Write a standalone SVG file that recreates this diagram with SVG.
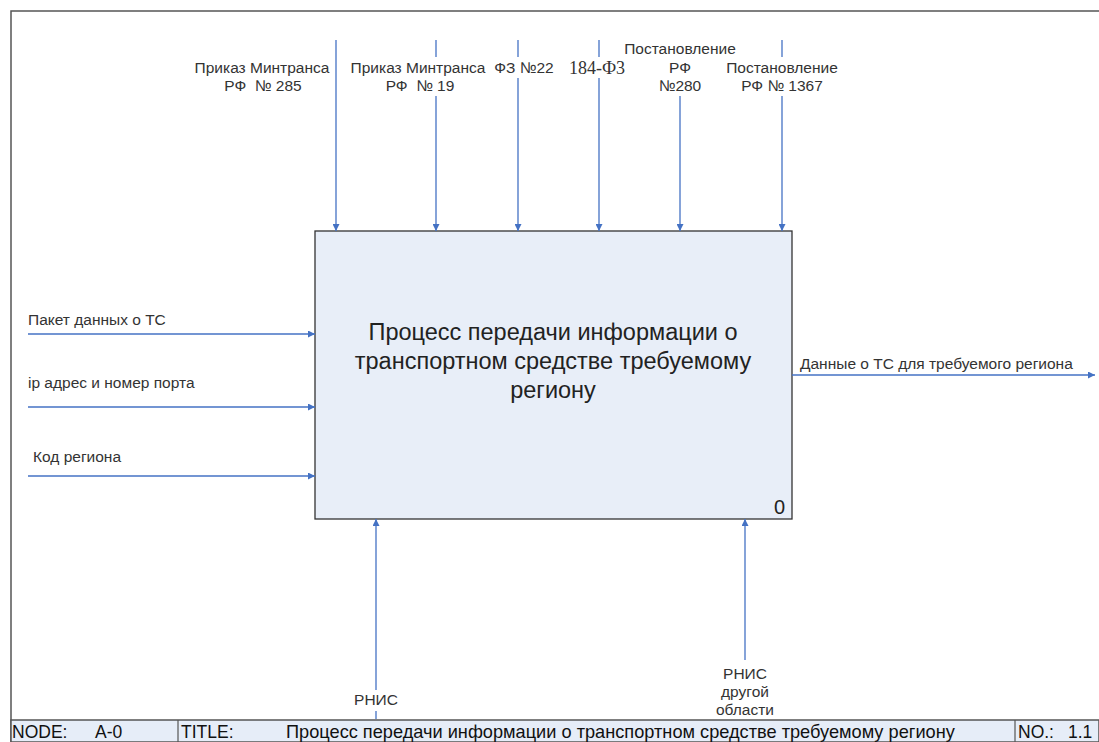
<svg xmlns="http://www.w3.org/2000/svg" width="1099" height="742" viewBox="0 0 1099 742">
<defs>
<marker id="ah" viewBox="0 0 10 10" refX="10" refY="5" markerWidth="7" markerHeight="7" markerUnits="userSpaceOnUse" orient="auto">
<path d="M0,0 L10,5 L0,10 z" fill="#4472c4"/>
</marker>
<style>
.t{font-family:"Liberation Sans",Arial,sans-serif;font-size:15.5px;fill:#333}
.c{text-anchor:middle}
.s{font-family:"Liberation Serif","Times New Roman",serif;font-size:18px;fill:#333}
.ln{stroke:#4472c4;stroke-width:1.3;fill:none}
.fr{stroke:#555;stroke-width:1.5;fill:none}
.ft{font-family:"Liberation Sans",Arial,sans-serif;font-size:17.5px;fill:#111}
.bt{font-family:"Liberation Sans",Arial,sans-serif;font-size:23.5px;fill:#222;text-anchor:middle}
</style>
</defs>
<rect width="1099" height="742" fill="#fff"/>
<g id="frame">
<path class="fr" d="M11,742 V11 H1099"/>
<rect x="11" y="720" width="1088" height="22" fill="#e6edf8" stroke="#555" stroke-width="1.5"/>
<line x1="178" y1="720" x2="178" y2="742" stroke="#555" stroke-width="1.2"/>
<line x1="1015" y1="720" x2="1015" y2="742" stroke="#555" stroke-width="1.2"/>
<text class="ft" x="12" y="738">NODE:</text>
<text class="ft" x="95" y="738">A-0</text>
<text class="ft" x="181" y="738">TITLE:</text>
<text class="ft" x="286" y="738" style="font-size:18.2px">Процесс передачи информации о транспортном средстве требуемому региону</text>
<text class="ft" x="1018" y="738">NO.:</text>
<text class="ft" x="1068" y="738">1.1</text>
</g>
<g id="A0">
<rect x="315" y="231" width="477" height="288" fill="#e8eef8" stroke="#333" stroke-width="1.3"/>
<text class="bt" x="553" y="340">Процесс передачи информации о</text>
<text class="bt" x="553" y="369">транспортном средстве требуемому</text>
<text class="bt" x="553" y="398">региону</text>
<text font-family="Liberation Sans,Arial,sans-serif" font-size="20" fill="#222" x="774" y="514">0</text>
</g>
<g id="connectors">
<line class="ln" x1="336" y1="40" x2="336" y2="231" marker-end="url(#ah)"/>
<line class="ln" x1="436" y1="40" x2="436" y2="57"/>
<line class="ln" x1="436" y1="96" x2="436" y2="231" marker-end="url(#ah)"/>
<line class="ln" x1="518" y1="40" x2="518" y2="57"/>
<line class="ln" x1="518" y1="78" x2="518" y2="231" marker-end="url(#ah)"/>
<line class="ln" x1="599" y1="40" x2="599" y2="57"/>
<line class="ln" x1="599" y1="78" x2="599" y2="231" marker-end="url(#ah)"/>
<line class="ln" x1="680" y1="96" x2="680" y2="231" marker-end="url(#ah)"/>
<line class="ln" x1="782" y1="40" x2="782" y2="57"/>
<line class="ln" x1="782" y1="96" x2="782" y2="231" marker-end="url(#ah)"/>
<line class="ln" x1="28" y1="334" x2="315" y2="334" marker-end="url(#ah)"/>
<line class="ln" x1="28" y1="407" x2="315" y2="407" marker-end="url(#ah)"/>
<line class="ln" x1="28" y1="476" x2="315" y2="476" marker-end="url(#ah)"/>
<line class="ln" x1="792" y1="375" x2="1095" y2="375" marker-end="url(#ah)"/>
<line class="ln" x1="376" y1="690" x2="376" y2="519" marker-end="url(#ah)"/>
<line class="ln" x1="376" y1="711" x2="376" y2="719"/>
<line class="ln" x1="745" y1="660" x2="745" y2="519" marker-end="url(#ah)"/>
</g>
<g id="labels">
<text class="t c" x="262" y="73">Приказ Минтранса</text>
<text class="t c" x="263" y="91" xml:space="preserve">РФ  № 285</text>
<text class="t c" x="418" y="73">Приказ Минтранса</text>
<text class="t c" x="420" y="91" xml:space="preserve">РФ  № 19</text>
<text class="t c" x="524" y="73">ФЗ №22</text>
<text class="s c" x="597" y="74">184-Ф3</text>
<text class="t c" x="680" y="54">Постановление</text>
<text class="t c" x="680" y="73">РФ</text>
<text class="t c" x="680" y="91">№280</text>
<text class="t c" x="782" y="73">Постановление</text>
<text class="t c" x="782" y="91">РФ № 1367</text>
<text class="t" x="28" y="325">Пакет данных о ТС</text>
<text class="t" x="28" y="388">ip адрес и номер порта</text>
<text class="t" x="33" y="462">Код региона</text>
<text class="t" x="800" y="369">Данные о ТС для требуемого региона</text>
<text class="t c" x="376" y="705">РНИС</text>
<text class="t c" x="745" y="679">РНИС</text>
<text class="t c" x="745" y="697">другой</text>
<text class="t c" x="745" y="715">области</text>
</g>
</svg>
